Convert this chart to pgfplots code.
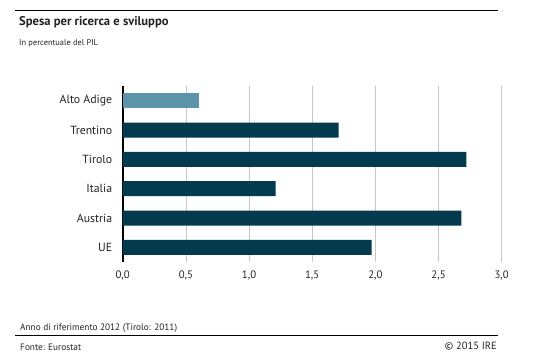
\documentclass[border=0pt]{standalone}
\usepackage{fontspec}
\setmainfont{PT Sans}
\usepackage{pgfplots}
\pgfplotsset{compat=1.18}
\definecolor{barDark}{HTML}{033A4E}
\definecolor{barLight}{HTML}{5A95AA}
\definecolor{txt}{HTML}{222222}
\begin{document}
\begin{tikzpicture}[x=1pt,y=1pt]
\path[use as bounding box] (0,0) rectangle (545,358);
\draw[line width=1pt] (15,347) -- (498,347);
\node[anchor=base west, inner sep=0pt, text=txt, font=\fontsize{12.6}{14}\selectfont\bfseries] at (19,332) {Spesa per ricerca e sviluppo};
\node[anchor=base west, inner sep=0pt, text=txt, font=\fontsize{8.4}{10}\selectfont] at (19,312) {In percentuale del PIL};
\begin{axis}[
  at={(122.7pt,96pt)}, anchor=south west,
  scale only axis, width=379pt, height=176pt,
  xmin=0, xmax=3.0, ymin=-0.5, ymax=5.5, y dir=reverse,
  axis y line*=left, axis x line*=bottom,
  y axis line style={black, line width=1.6pt, -},
  x axis line style={draw=none},
  xtick={0,0.5,...,3.0},
  ytick={0,...,5},
  yticklabels={Alto Adige,Trentino,Tirolo,Italia,Austria,UE},
  major tick length=0pt,
  xmajorgrids, grid style={gray!45, line width=0.6pt},
  /pgf/number format/.cd, fixed, fixed zerofill, precision=1, use comma, assume math mode=true,
  /pgfplots/.cd,
  xticklabel style={font=\fontsize{10.8}{12}\selectfont, text=txt, yshift=-5pt},
  yticklabel style={font=\fontsize{11.8}{13}\selectfont, text=txt, xshift=-7pt},
  clip=false,
]
\addplot[xbar, bar width=15pt, bar shift=0pt, fill=barLight, draw=none] coordinates {(0.6,0)};
\addplot[xbar, bar width=15pt, bar shift=0pt, fill=barDark, draw=none] coordinates {(1.71,1) (2.72,2) (1.21,3) (2.68,4) (1.97,5)};
\end{axis}
\node[anchor=base west, inner sep=0pt, text=txt, font=\fontsize{9.3}{11}\selectfont] at (20,27) {Anno di riferimento 2012 (Tirolo: 2011)};
\draw[line width=0.8pt] (15,23) -- (498,23);
\node[anchor=base west, inner sep=0pt, text=txt, font=\fontsize{9.3}{11}\selectfont] at (20,8) {Fonte: Eurostat};
\node[anchor=base east, inner sep=0pt, text=txt, font=\fontsize{10.5}{12}\selectfont] at (497,9) {\textcopyright{} 2015 IRE};
\end{tikzpicture}
\end{document}
